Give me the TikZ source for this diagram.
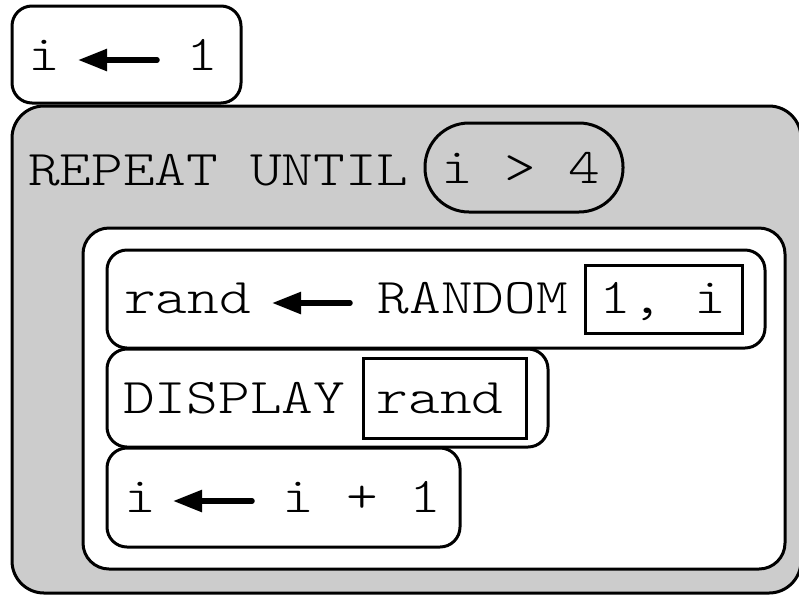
\documentclass[tikz,border=0pt]{standalone}
\usetikzlibrary{arrows.meta}

% light typewriter face, widened to a Courier-like advance
\newcommand\codefont{\fontfamily{lmtt}\fontseries{l}\fontsize{50}{60}\selectfont}
\newcommand\cw[1]{\scalebox{1.2076}[1]{#1}}

\definecolor{loopgray}{HTML}{CCCCCC}

\tikzset{
  stmt/.style={draw=black, line width=3pt, fill=white, rounded corners=20pt},
  loopbox/.style={draw=black, line width=3pt, fill=loopgray, rounded corners=32pt},
  bodybox/.style={draw=black, line width=3pt, fill=white, rounded corners=26pt},
  argbox/.style={draw=black, line width=3pt},
  condbox/.style={draw=black, line width=3pt, rounded corners=44pt},
  code/.style={font=\codefont, inner sep=0pt, anchor=base west, text=black},
  assign/.style={line width=5.5pt, line cap=round, -{Triangle[length=29pt,width=21pt]}},
}

\begin{document}
\begin{tikzpicture}[x=1pt,y=-1pt]
  \useasboundingbox (0,0) rectangle (799,595);

  % i <- 1
  \draw[stmt] (12,6) rectangle (241,103);
  \node[code] (ti) at (28,70) {\cw{i}};
  \node[code] (tone) at (186.5,70) {\cw{1}};
  \coordinate (ta0) at (157,60);
  \coordinate (ta1) at (78,60);
  \draw[assign] (ta0) -- (ta1);

  % REPEAT UNTIL block
  \draw[loopbox] (12,106) rectangle (801,593);
  \node[code] (rep) at (28,185) {\cw{REPEAT UNTIL}};
  \draw[condbox] (425,123) rectangle (623,212);
  \node[code] (cond) at (441,183) {\cw{i > 4}};

  % loop body
  \draw[bodybox] (83,228) rectangle (785,569);

  % rand <- RANDOM(1, i)
  \draw[stmt] (107,250) rectangle (765,348);
  \node[code] (rv) at (124,313) {\cw{rand}};
  \node[code] (rf) at (377.6,313) {\cw{RANDOM}};
  \draw[argbox] (585,265) rectangle (742,333);
  \node[code] (ra) at (599.5,313) {\cw{1, i}};
  \coordinate (ra0) at (350,303);
  \coordinate (ra1) at (272,303);
  \draw[assign] (ra0) -- (ra1);

  % DISPLAY(rand)
  \draw[stmt] (107,349) rectangle (548,447);
  \node[code] (dk) at (123,413) {\cw{DISPLAY}};
  \draw[argbox] (363,358) rectangle (526,438);
  \node[code] (da) at (376.6,413) {\cw{rand}};

  % i <- i + 1
  \draw[stmt] (107,448) rectangle (460,547);
  \node[code] (iv) at (124,512) {\cw{i}};
  \node[code] (ie) at (282.5,512) {\cw{i + 1}};
  \coordinate (ia0) at (252,501);
  \coordinate (ia1) at (173,501);
  \draw[assign] (ia0) -- (ia1);
\end{tikzpicture}
\end{document}
